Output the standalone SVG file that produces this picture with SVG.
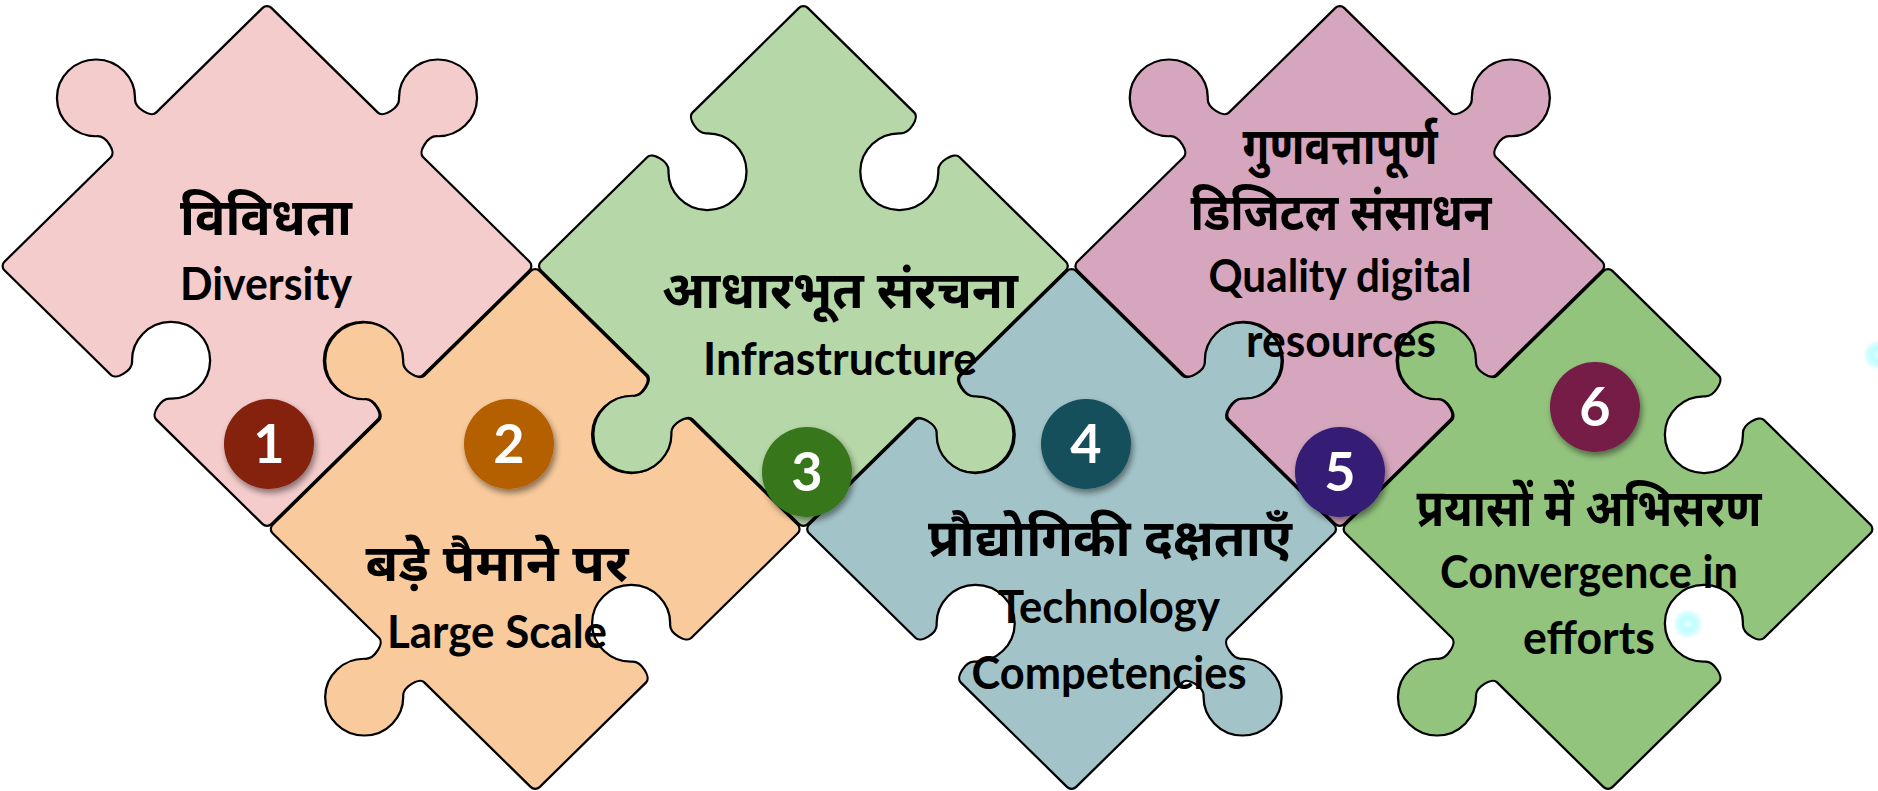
<svg xmlns="http://www.w3.org/2000/svg" width="1878" height="791" viewBox="0 0 1878 791">
<style>
.pc{stroke:#000;stroke-width:2.2;stroke-linejoin:round}
.dv{font-family:'Noto Sans Devanagari','Noto Sans',sans-serif;font-weight:700;font-size:52px;fill:#000;text-anchor:middle}
.en{font-family:Lato,'Liberation Sans',sans-serif;font-weight:700;font-size:46px;fill:#000;text-anchor:middle}
.bd{filter:url(#sh)}
.num{font-family:Lato,'Liberation Sans',sans-serif;font-weight:700;font-size:54px;fill:#fff;text-anchor:middle}
</style>
<defs>
<filter id="sh" x="-40%" y="-40%" width="180%" height="190%"><feDropShadow dx="2" dy="4" stdDeviation="3" flood-color="#000" flood-opacity="0.45"/></filter>
<radialGradient id="glow"><stop offset="0" stop-color="#f4ffff"/><stop offset="0.35" stop-color="#b8ffff" stop-opacity="0.9"/><stop offset="1" stop-color="#7ff6ff" stop-opacity="0"/></radialGradient>
<path id="pA" d="M-177.8 -183.8 L-31 -183.8 C-24 -183.8 -19.4 -201.7 -26 -207.8 A38 38 0 1 1 26 -207.8 C19.4 -201.7 24 -183.8 31 -183.8 L177.8 -183.8 A6 6 0 0 1 183.8 -177.8 L183.8 -31 C183.8 -24 165.9 -19.4 159.8 -26 A38 38 0 1 0 159.8 26 C165.9 19.4 183.8 24 183.8 31 L183.8 177.8 A6 6 0 0 1 177.8 183.8 L31 183.8 C24 183.8 19.4 165.9 26 159.8 A38 38 0 1 0 -26 159.8 C-19.4 165.9 -24 183.8 -31 183.8 L-177.8 183.8 A6 6 0 0 1 -183.8 177.8 L-183.8 31 C-183.8 24 -201.7 19.4 -207.8 26 A38 38 0 1 1 -207.8 -26 C-201.7 -19.4 -183.8 -24 -183.8 -31 L-183.8 -177.8 A6 6 0 0 1 -177.8 -183.8 Z"/>
<path id="pB" d="M-177.8 -183.8 L-31 -183.8 C-24 -183.8 -19.4 -165.9 -26 -159.8 A38 38 0 1 0 26 -159.8 C19.4 -165.9 24 -183.8 31 -183.8 L177.8 -183.8 A6 6 0 0 1 183.8 -177.8 L183.8 -31 C183.8 -24 165.9 -19.4 159.8 -26 A38 38 0 1 0 159.8 26 C165.9 19.4 183.8 24 183.8 31 L183.8 177.8 A6 6 0 0 1 177.8 183.8 L31 183.8 C24 183.8 19.4 201.7 26 207.8 A38 38 0 1 1 -26 207.8 C-19.4 201.7 -24 183.8 -31 183.8 L-177.8 183.8 A6 6 0 0 1 -183.8 177.8 L-183.8 31 C-183.8 24 -201.7 19.4 -207.8 26 A38 38 0 1 1 -207.8 -26 C-201.7 -19.4 -183.8 -24 -183.8 -31 L-183.8 -177.8 A6 6 0 0 1 -177.8 -183.8 Z"/>
<path id="pC" d="M-177.8 -183.8 L-31 -183.8 C-24 -183.8 -19.4 -165.9 -26 -159.8 A38 38 0 1 0 26 -159.8 C19.4 -165.9 24 -183.8 31 -183.8 L177.8 -183.8 A6 6 0 0 1 183.8 -177.8 L183.8 -31 C183.8 -24 201.7 -19.4 207.8 -26 A38 38 0 1 1 207.8 26 C201.7 19.4 183.8 24 183.8 31 L183.8 177.8 A6 6 0 0 1 177.8 183.8 L31 183.8 C24 183.8 19.4 201.7 26 207.8 A38 38 0 1 1 -26 207.8 C-19.4 201.7 -24 183.8 -31 183.8 L-177.8 183.8 A6 6 0 0 1 -183.8 177.8 L-183.8 31 C-183.8 24 -165.9 19.4 -159.8 26 A38 38 0 1 0 -159.8 -26 C-165.9 -19.4 -183.8 -24 -183.8 -31 L-183.8 -177.8 A6 6 0 0 1 -177.8 -183.8 Z"/>
<path id="pD" d="M-177.8 -183.8 L-31 -183.8 C-24 -183.8 -19.4 -201.7 -26 -207.8 A38 38 0 1 1 26 -207.8 C19.4 -201.7 24 -183.8 31 -183.8 L177.8 -183.8 A6 6 0 0 1 183.8 -177.8 L183.8 -31 C183.8 -24 201.7 -19.4 207.8 -26 A38 38 0 1 1 207.8 26 C201.7 19.4 183.8 24 183.8 31 L183.8 177.8 A6 6 0 0 1 177.8 183.8 L31 183.8 C24 183.8 19.4 165.9 26 159.8 A38 38 0 1 0 -26 159.8 C-19.4 165.9 -24 183.8 -31 183.8 L-177.8 183.8 A6 6 0 0 1 -183.8 177.8 L-183.8 31 C-183.8 24 -165.9 19.4 -159.8 26 A38 38 0 1 0 -159.8 -26 C-165.9 -19.4 -183.8 -24 -183.8 -31 L-183.8 -177.8 A6 6 0 0 1 -177.8 -183.8 Z"/>
</defs>
<rect width="1878" height="791" fill="#fff"/>
<g id="pieces">
<g id="node-1-shape"><use href="#pA" class="pc" fill="#F4CCCC" transform="translate(267 266) scale(1.0269 1.0096) rotate(45)"/></g>
<g id="node-2-shape"><use href="#pB" class="pc" fill="#F9CB9C" transform="translate(535.2 529) scale(1.0269 1.0096) rotate(45)"/></g>
<g id="node-3-shape"><use href="#pC" class="pc" fill="#B6D7A8" transform="translate(803.4 266) scale(1.0269 1.0096) rotate(45)"/></g>
<g id="node-4-shape"><use href="#pD" class="pc" fill="#A2C4C9" transform="translate(1071.6 529) scale(1.0269 1.0096) rotate(45)"/></g>
<g id="node-5-shape"><use href="#pA" class="pc" fill="#D5A6BD" transform="translate(1339.8 266) scale(1.0269 1.0096) rotate(45)"/></g>
<g id="node-6-shape"><use href="#pB" class="pc" fill="#93C47D" transform="translate(1608 529) scale(1.0269 1.0096) rotate(45)"/></g>
</g>
<g id="connectors"/>
<g id="node-1">
<text class="dv" x="266" y="235" textLength="172" lengthAdjust="spacingAndGlyphs">विविधता</text>
<text class="en" x="266" y="300" textLength="172" lengthAdjust="spacingAndGlyphs">Diversity</text>
<circle class="bd" cx="269" cy="444" r="45" fill="#85200C"/>
<text class="num" x="269" y="463">1</text>
</g>
<g id="node-2">
<text class="dv" x="497" y="581" textLength="263" lengthAdjust="spacingAndGlyphs">बड़े पैमाने पर</text>
<text class="en" x="497" y="648" textLength="220" lengthAdjust="spacingAndGlyphs">Large Scale</text>
<circle class="bd" cx="509" cy="444" r="45" fill="#B45F06"/>
<text class="num" x="509" y="463">2</text>
</g>
<g id="node-3">
<text class="dv" x="840" y="308" textLength="356" lengthAdjust="spacingAndGlyphs">आधारभूत संरचना</text>
<text class="en" x="840" y="375" textLength="274" lengthAdjust="spacingAndGlyphs">Infrastructure</text>
<circle class="bd" cx="807" cy="472" r="45" fill="#38761D"/>
<text class="num" x="807" y="491">3</text>
</g>
<g id="node-4">
<text class="dv" x="1110" y="556" textLength="364" lengthAdjust="spacingAndGlyphs">प्रौद्योगिकी दक्षताएँ</text>
<text class="en" x="1109" y="623" textLength="222" lengthAdjust="spacingAndGlyphs">Technology</text>
<text class="en" x="1109" y="689" textLength="275" lengthAdjust="spacingAndGlyphs">Competencies</text>
<circle class="bd" cx="1086" cy="444" r="45" fill="#134F5C"/>
<text class="num" x="1086" y="463">4</text>
</g>
<g id="node-5">
<text class="dv" x="1340" y="164" font-size="47" textLength="195" lengthAdjust="spacingAndGlyphs">गुणवत्तापूर्ण</text>
<text class="dv" x="1341" y="230" textLength="301" lengthAdjust="spacingAndGlyphs">डिजिटल संसाधन</text>
<text class="en" x="1340" y="292" textLength="263" lengthAdjust="spacingAndGlyphs">Quality digital</text>
<text class="en" x="1341" y="357" textLength="190" lengthAdjust="spacingAndGlyphs">resources</text>
<circle class="bd" cx="1340" cy="472" r="45" fill="#351C75"/>
<text class="num" x="1340" y="491">5</text>
</g>
<g id="node-6">
<text class="dv" x="1589" y="526" textLength="345" lengthAdjust="spacingAndGlyphs">प्रयासों में अभिसरण</text>
<text class="en" x="1589" y="588" textLength="298" lengthAdjust="spacingAndGlyphs">Convergence in</text>
<text class="en" x="1589" y="654" textLength="132" lengthAdjust="spacingAndGlyphs">efforts</text>
<circle class="bd" cx="1595" cy="407" r="45" fill="#741B47"/>
<text class="num" x="1595" y="426">6</text>
</g>
<circle cx="1688" cy="624" r="15" fill="url(#glow)"/>
<circle cx="1878" cy="355" r="15" fill="url(#glow)"/>
</svg>
